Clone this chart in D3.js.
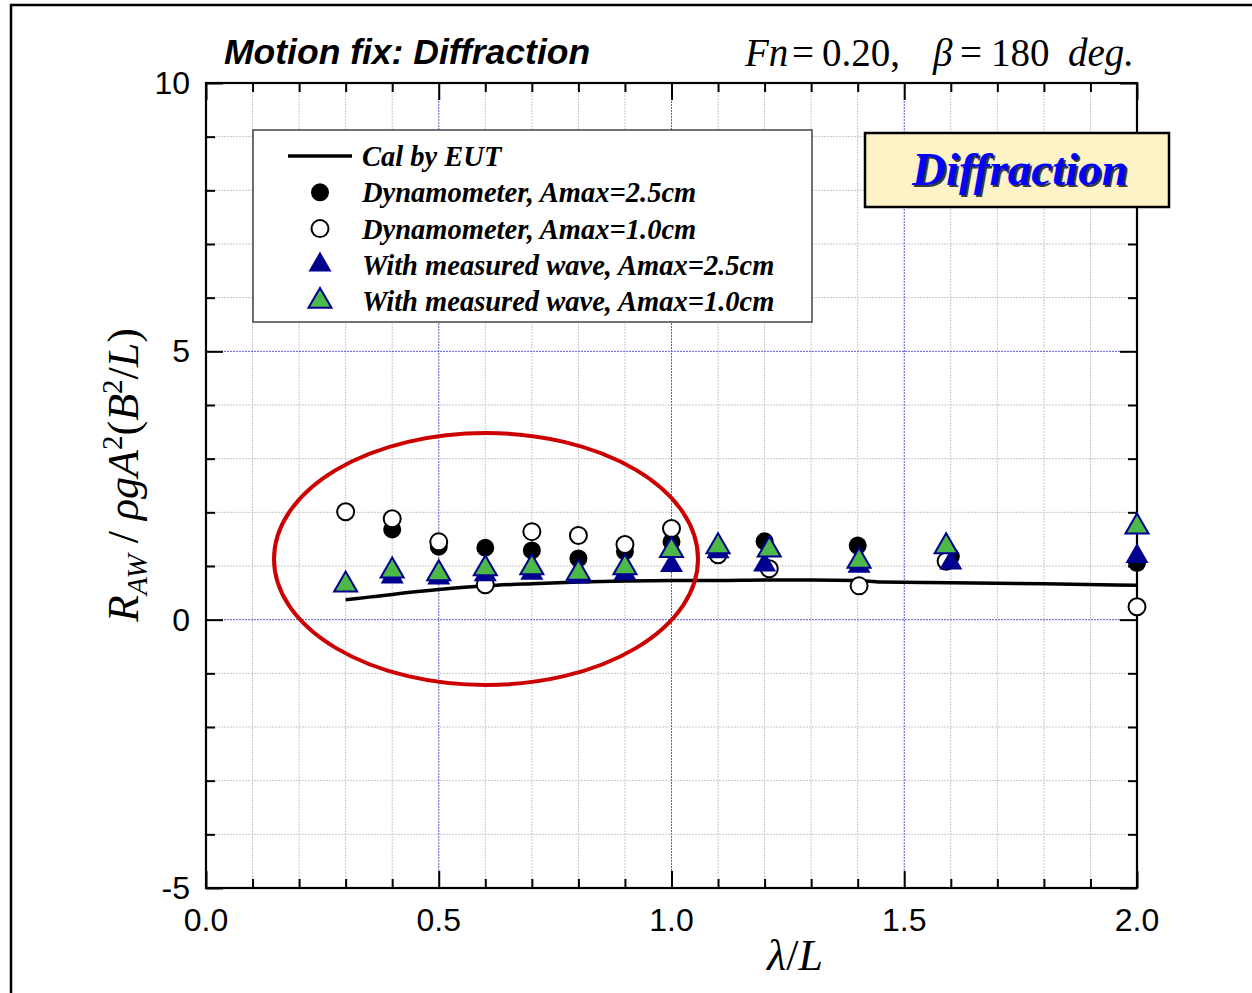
<!DOCTYPE html>
<html>
<head>
<meta charset="utf-8">
<script src="https://cdn.jsdelivr.net/npm/d3@7/dist/d3.min.js"></script>
<style>
  html, body { margin: 0; padding: 0; background: #fff; }
  svg { display: block; }
</style>
</head>
<body>
<svg id="chart" width="1252" height="993"></svg>
<script>
// ---- data ----
// Cal by EUT (computed curve)
const eutX = [0.30, 0.35, 0.40, 0.50, 0.60, 0.70, 0.80, 0.90, 1.00, 1.10, 1.20, 1.30, 1.40, 1.45, 1.60, 1.80, 2.00];
const eutY = [0.37, 0.42, 0.47, 0.56, 0.63, 0.67, 0.70, 0.72, 0.73, 0.73, 0.74, 0.74, 0.73, 0.70, 0.69, 0.67, 0.64];

// Dynamometer, Amax = 2.5 cm (filled circles)
const dyn25X = [0.40, 0.50, 0.60, 0.70, 0.80, 0.90, 1.00, 1.20, 1.40, 1.60, 2.00];
const dyn25Y = [1.68, 1.36, 1.34, 1.29, 1.14, 1.27, 1.45, 1.46, 1.38, 1.18, 1.06];

// Dynamometer, Amax = 1.0 cm (open circles)
const dyn10X = [0.30, 0.40, 0.50, 0.60, 0.70, 0.80, 0.90, 1.00, 1.10, 1.21, 1.403, 1.59, 2.00];
const dyn10Y = [2.01, 1.88, 1.45, 0.65, 1.64, 1.57, 1.40, 1.70, 1.21, 0.95, 0.63, 1.09, 0.24];

// With measured wave, Amax = 2.5 cm (navy triangles)
const mw25X = [0.40, 0.50, 0.60, 0.70, 0.80, 0.90, 1.00, 1.10, 1.20, 1.403, 1.60, 2.00];
const mw25Y = [0.80, 0.78, 0.84, 0.87, 0.80, 0.86, 1.01, 1.27, 1.02, 1.00, 1.06, 1.18];

// With measured wave, Amax = 1.0 cm (green triangles)
const mw10X = [0.30, 0.40, 0.50, 0.60, 0.70, 0.80, 0.90, 1.00, 1.10, 1.21, 1.403, 1.59, 2.00];
const mw10Y = [0.65, 0.91, 0.86, 0.95, 0.97, 0.87, 0.97, 1.29, 1.36, 1.30, 1.09, 1.36, 1.73];

const xTickLabels = ["0.0", "0.5", "1.0", "1.5", "2.0"];
const yTickLabels = ["-5", "0", "5", "10"];

const legendLabels = [
  "Cal by EUT",
  "Dynamometer, Amax=2.5cm",
  "Dynamometer, Amax=1.0cm",
  "With measured wave, Amax=2.5cm",
  "With measured wave, Amax=1.0cm"
];

// ---- layout ----
const svg = d3.select("#chart");
const plot = { left: 206, right: 1137, top: 83, bottom: 888 };

const x = d3.scaleLinear().domain([0, 2]).range([plot.left, plot.right]);
const y = d3.scaleLinear().domain([-5, 10]).range([plot.bottom, plot.top]);

const zip = (xs, ys) => xs.map((v, i) => ({ x: v, y: ys[i] }));

// outer figure frame
svg.append("rect")
  .attr("x", 11).attr("y", 5)
  .attr("width", 1300).attr("height", 1100)
  .attr("fill", "none").attr("stroke", "#000").attr("stroke-width", 2.5);

// ---- grid ----
const grid = svg.append("g");
const minorX = d3.range(1, 20).map(i => i / 10).filter(v => Math.abs(v * 2 - Math.round(v * 2)) > 1e-6);
const majorX = [0.5, 1.0, 1.5];
const minorY = d3.range(-4, 10).filter(v => v % 5 !== 0);
const majorY = [0, 5];

grid.selectAll(".gx").data(minorX).join("line")
  .attr("x1", d => x(d)).attr("x2", d => x(d))
  .attr("y1", plot.top).attr("y2", plot.bottom)
  .attr("stroke", "#c8c8c8").attr("stroke-width", 1).attr("stroke-dasharray", "2,1");
grid.selectAll(".gy").data(minorY).join("line")
  .attr("y1", d => y(d)).attr("y2", d => y(d))
  .attr("x1", plot.left).attr("x2", plot.right)
  .attr("stroke", "#c8c8c8").attr("stroke-width", 1).attr("stroke-dasharray", "2,1");
grid.selectAll(".gX").data(majorX).join("line")
  .attr("x1", d => x(d)).attr("x2", d => x(d))
  .attr("y1", plot.top).attr("y2", plot.bottom)
  .attr("stroke", "#5a5ad8").attr("stroke-width", 1).attr("stroke-dasharray", "2,1");
grid.selectAll(".gY").data(majorY).join("line")
  .attr("y1", d => y(d)).attr("y2", d => y(d))
  .attr("x1", plot.left).attr("x2", plot.right)
  .attr("stroke", "#5a5ad8").attr("stroke-width", 1).attr("stroke-dasharray", "2,1");

// ---- axes (ticks pointing inward on all four sides) ----
const xTicks = d3.range(0, 21).map(i => i / 10);
const yTicks = d3.range(-5, 11);
const isMajorX = v => Math.abs(v * 2 - Math.round(v * 2)) < 1e-6;
const isMajorY = v => v % 5 === 0;

const axBottom = d3.axisBottom(x).tickValues(xTicks).tickFormat("").tickSizeInner(-9).tickSizeOuter(0);
const axTop = d3.axisTop(x).tickValues(xTicks).tickFormat("").tickSizeInner(-9).tickSizeOuter(0);
const axLeft = d3.axisLeft(y).tickValues(yTicks).tickFormat("").tickSizeInner(-9).tickSizeOuter(0);
const axRight = d3.axisRight(y).tickValues(yTicks).tickFormat("").tickSizeInner(-9).tickSizeOuter(0);

function styleAxis(g, majorFn, dir) {
  g.select(".domain").remove();
  g.selectAll(".tick line")
    .attr("stroke", "#000").attr("stroke-width", 2)
    .each(function (d) {
      if (majorFn(d)) {
        const el = d3.select(this);
        if (dir === "v") el.attr("y2", +el.attr("y2") > 0 ? 17 : -17);
        else el.attr("x2", +el.attr("x2") > 0 ? 17 : -17);
      }
    });
}
svg.append("g").attr("transform", `translate(0,${plot.bottom})`).call(axBottom).call(g => styleAxis(g, isMajorX, "v"));
svg.append("g").attr("transform", `translate(0,${plot.top})`).call(axTop).call(g => styleAxis(g, isMajorX, "v"));
svg.append("g").attr("transform", `translate(${plot.left},0)`).call(axLeft).call(g => styleAxis(g, isMajorY, "h"));
svg.append("g").attr("transform", `translate(${plot.right},0)`).call(axRight).call(g => styleAxis(g, isMajorY, "h"));

// plot frame
svg.append("rect")
  .attr("x", plot.left).attr("y", plot.top)
  .attr("width", plot.right - plot.left).attr("height", plot.bottom - plot.top)
  .attr("fill", "none").attr("stroke", "#000").attr("stroke-width", 2.2);

// tick labels
const tickFont = "'Liberation Sans', Arial, sans-serif";
svg.append("g").selectAll("text").data(xTickLabels).join("text")
  .attr("x", d => x(+d)).attr("y", 931)
  .attr("text-anchor", "middle")
  .attr("font-family", tickFont).attr("font-size", 32)
  .text(d => d);
svg.append("g").selectAll("text").data(yTickLabels).join("text")
  .attr("x", 190).attr("y", d => y(+d) + 11)
  .attr("text-anchor", "end")
  .attr("font-family", tickFont).attr("font-size", 32)
  .text(d => d);

// ---- titles ----
svg.append("text")
  .attr("x", 224).attr("y", 64)
  .attr("font-family", tickFont).attr("font-size", 35.5)
  .attr("font-weight", "bold").attr("font-style", "italic")
  .text("Motion fix: Diffraction");

// run condition, typeset piece by piece with math-style spacing
const mathFont = "'Liberation Serif', 'DejaVu Serif', serif";
const condParts = [
  { t: "Fn", x: 745, it: true },
  { t: "=", x: 792, it: false },
  { t: "0.20,", x: 822, it: false },
  { t: "β", x: 933, it: true },
  { t: "=", x: 960, it: false },
  { t: "180", x: 991, it: false },
  { t: "deg.", x: 1068, it: true }
];
svg.append("g").selectAll("text").data(condParts).join("text")
  .attr("x", d => d.x).attr("y", 66)
  .attr("font-family", mathFont).attr("font-size", 39)
  .attr("font-style", d => d.it ? "italic" : "normal")
  .text(d => d.t);

// axis titles
const xl = svg.append("text")
  .attr("x", 795).attr("y", 970).attr("text-anchor", "middle")
  .attr("font-family", mathFont).attr("font-size", 44).attr("font-style", "italic");
xl.append("tspan").text("λ");
xl.append("tspan").attr("font-style", "normal").text("/");
xl.append("tspan").text("L");

const yl = svg.append("text")
  .attr("transform", "translate(138,475) rotate(-90)")
  .attr("text-anchor", "middle")
  .attr("font-family", mathFont).attr("font-size", 44);
yl.append("tspan").attr("font-style", "italic").text("R");
yl.append("tspan").attr("font-style", "italic").attr("font-size", 29).attr("baseline-shift", "-9").text("AW");
yl.append("tspan").text(" / ");
yl.append("tspan").attr("font-style", "italic").text("ρgA");
yl.append("tspan").attr("font-size", 29).attr("baseline-shift", "16").text("2");
yl.append("tspan").text("(");
yl.append("tspan").attr("font-style", "italic").text("B");
yl.append("tspan").attr("font-size", 29).attr("baseline-shift", "16").text("2");
yl.append("tspan").text("/");
yl.append("tspan").attr("font-style", "italic").text("L");
yl.append("tspan").text(")");

// ---- marks ----
const navy = "#00008f";
const green = "#4cb848";
const triPath = d3.symbol(d3.symbolTriangle, 230);

const line = d3.line().x(d => x(d.x)).y(d => y(d.y)).curve(d3.curveMonotoneX);
svg.append("path")
  .datum(zip(eutX, eutY))
  .attr("d", line)
  .attr("fill", "none").attr("stroke", "#000").attr("stroke-width", 3.5);

svg.append("g").selectAll("circle").data(zip(dyn25X, dyn25Y)).join("circle")
  .attr("cx", d => x(d.x)).attr("cy", d => y(d.y)).attr("r", 9)
  .attr("fill", "#000");

svg.append("g").selectAll("circle").data(zip(dyn10X, dyn10Y)).join("circle")
  .attr("cx", d => x(d.x)).attr("cy", d => y(d.y)).attr("r", 8.5)
  .attr("fill", "#fff").attr("stroke", "#000").attr("stroke-width", 2);

svg.append("g").selectAll("path").data(zip(mw25X, mw25Y)).join("path")
  .attr("transform", d => `translate(${x(d.x)},${y(d.y)})`)
  .attr("d", triPath).attr("fill", navy);

svg.append("g").selectAll("path").data(zip(mw10X, mw10Y)).join("path")
  .attr("transform", d => `translate(${x(d.x)},${y(d.y)})`)
  .attr("d", triPath).attr("fill", green).attr("stroke", navy).attr("stroke-width", 2);

// highlight ellipse around the short-wave region
svg.append("ellipse")
  .attr("cx", 486).attr("cy", 559).attr("rx", 212).attr("ry", 126)
  .attr("fill", "none").attr("stroke", "#cc0000").attr("stroke-width", 4);

// ---- legend ----
const lg = svg.append("g");
lg.append("rect")
  .attr("x", 253).attr("y", 130).attr("width", 559).attr("height", 192)
  .attr("fill", "#fff").attr("stroke", "#444").attr("stroke-width", 1.5);
const rowY = i => 156 + i * 36.3;
lg.append("line").attr("x1", 288).attr("x2", 352).attr("y1", rowY(0)).attr("y2", rowY(0))
  .attr("stroke", "#000").attr("stroke-width", 3.5);
lg.append("circle").attr("cx", 320).attr("cy", rowY(1)).attr("r", 9).attr("fill", "#000");
lg.append("circle").attr("cx", 320).attr("cy", rowY(2)).attr("r", 8.5)
  .attr("fill", "#fff").attr("stroke", "#000").attr("stroke-width", 2);
lg.append("path").attr("transform", `translate(320,${rowY(3)})`).attr("d", triPath).attr("fill", navy);
lg.append("path").attr("transform", `translate(320,${rowY(4)})`).attr("d", triPath)
  .attr("fill", green).attr("stroke", navy).attr("stroke-width", 2);
lg.selectAll("text").data(legendLabels).join("text")
  .attr("x", 362).attr("y", (d, i) => rowY(i) + 10)
  .attr("font-family", mathFont).attr("font-size", 28.5)
  .attr("font-weight", "bold").attr("font-style", "italic")
  .text(d => d);

// ---- "Diffraction" tag ----
const tag = svg.append("g");
tag.append("rect")
  .attr("x", 865).attr("y", 133).attr("width", 304).attr("height", 74)
  .attr("fill", "#fdf3c6").attr("stroke", "#000").attr("stroke-width", 2.5);
tag.append("text")
  .attr("x", 1022).attr("y", 187).attr("text-anchor", "middle")
  .attr("font-family", mathFont).attr("font-size", 47)
  .attr("font-weight", "bold").attr("font-style", "italic")
  .attr("fill", "#3a3a3a").text("Diffraction");
tag.append("text")
  .attr("x", 1020).attr("y", 185).attr("text-anchor", "middle")
  .attr("font-family", mathFont).attr("font-size", 47)
  .attr("font-weight", "bold").attr("font-style", "italic")
  .attr("fill", "#0000ff").text("Diffraction");
</script>
</body>
</html>
